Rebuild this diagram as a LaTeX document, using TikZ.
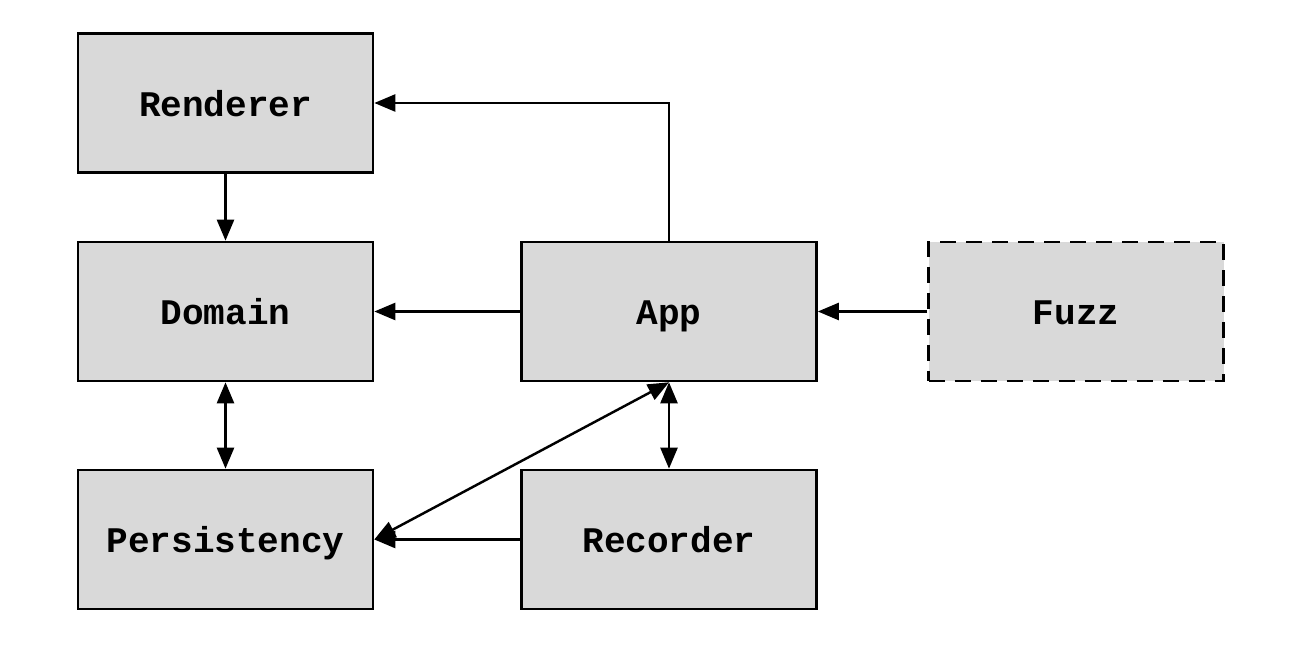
\documentclass[tikz,border=0pt]{standalone}
\usepackage{fontspec}
\setmonofont{Liberation Mono}
\usetikzlibrary{arrows.meta}
\begin{document}
\begin{tikzpicture}[
    module/.style={draw, line width=1.5pt, fill=modgray, minimum width=5.9cm,
      minimum height=2.78cm, text height=0.54cm, text depth=0cm,
      font=\fontsize{20.5}{23}\ttfamily\bfseries},
    dep/.style={line width=1.4pt, -{Triangle[length=4.2mm,width=3.4mm]}},
    both/.style={line width=1.4pt, {Triangle[length=4.2mm,width=3.4mm]}-{Triangle[length=4.2mm,width=3.4mm]}}
  ]
  \definecolor{modgray}{HTML}{D9D9D9}
  \useasboundingbox (0,0) rectangle (25.88,12.96);
  % left column
  \node[module] (renderer) at (4.51,10.9) {Renderer};
  \node[module] (domain) at (4.51,6.73) {Domain};
  \node[module] (persist) at (4.51,2.17) {Persistency};
  % middle column
  \node[module] (app) at (13.38,6.73) {App};
  \node[module] (recorder) at (13.38,2.17) {Recorder};
  % fuzzer, optional
  \node[module, dashed, dash pattern=on 3.2mm off 2mm] (fuzz) at (21.52,6.73) {Fuzz};
  % dependencies
  \draw[dep] (app.north) |- (renderer.east);
  \draw[dep] (renderer) -- (domain);
  \draw[dep] (app) -- (domain);
  \draw[dep] (fuzz) -- (app);
  \draw[dep] (recorder) -- (persist);
  \draw[both] (domain) -- (persist);
  \draw[both] (app.south) -- (recorder.north);
  \draw[both] (app.south) -- (persist.east);
\end{tikzpicture}
\end{document}
